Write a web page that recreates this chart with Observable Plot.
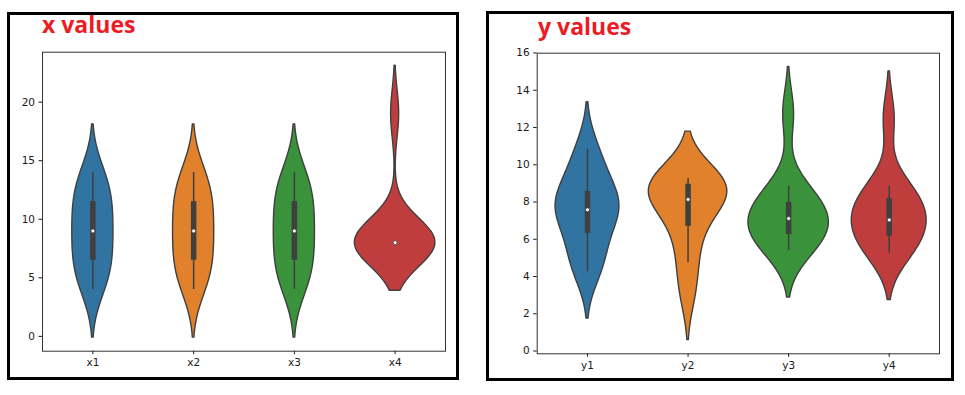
<!DOCTYPE html>
<html>
<head>
<meta charset="utf-8">
<script src="https://cdn.jsdelivr.net/npm/d3@7"></script>
<script src="https://cdn.jsdelivr.net/npm/@observablehq/plot@0.6"></script>
<style>
  html, body { margin: 0; padding: 0; background: #fff; width: 965px; height: 395px; overflow: hidden; }
  .pane { position: absolute; top: 0; }
  .box { position: absolute; border: 3.5px solid #000; box-sizing: border-box; pointer-events: none; }
  .ttl { position: absolute; font-family: "Open Sans", sans-serif; font-weight: 700; font-size: 23px; line-height: 23px; color: #ed1c24; white-space: nowrap; }
</style>
</head>
<body>
<div id="left" class="pane" style="left:0px;width:460px;height:395px"></div>
<div id="right" class="pane" style="left:480px;width:480px;height:395px"></div>
<div class="box" style="left:7px;top:12px;width:452px;height:368px"></div>
<div class="box" style="left:486px;top:11px;width:468px;height:370px"></div>
<div class="ttl" style="left:42px;top:12.5px">x values</div>
<div class="ttl" style="left:538px;top:14.5px">y values</div>
<script>
// Anscombe's quartet
const xCats = ["x1", "x2", "x3", "x4"];
const yCats = ["y1", "y2", "y3", "y4"];
const x1 = [10, 8, 13, 9, 11, 14, 6, 4, 12, 7, 5];
const x2 = [10, 8, 13, 9, 11, 14, 6, 4, 12, 7, 5];
const x3 = [10, 8, 13, 9, 11, 14, 6, 4, 12, 7, 5];
const x4 = [8, 8, 8, 8, 8, 8, 8, 19, 8, 8, 8];
const y1 = [8.04, 6.95, 7.58, 8.81, 8.33, 9.96, 7.24, 4.26, 10.84, 4.82, 5.68];
const y2 = [9.14, 8.14, 8.74, 8.77, 9.26, 8.10, 6.13, 3.10, 9.13, 7.26, 4.74];
const y3 = [7.46, 6.77, 12.74, 7.11, 7.81, 8.84, 6.08, 5.39, 8.15, 6.42, 5.73];
const y4 = [6.58, 5.76, 7.71, 8.84, 8.47, 7.04, 5.25, 12.50, 5.56, 7.91, 6.89];
const xTicks = [0, 5, 10, 15, 20];
const yTicks = [0, 2, 4, 6, 8, 10, 12, 14, 16];
const palette = ["#3274a1", "#e1812c", "#3a923a", "#c03d3e"];

const GRAY = "#3f3f3f";

function kde(values) {
  const n = values.length;
  const sd = d3.deviation(values);
  const bw = sd * Math.pow(n, -1 / 5);
  const lo = d3.min(values) - 2 * bw, hi = d3.max(values) + 2 * bw;
  const k = 100;
  const pts = [];
  for (let j = 0; j < k; j++) {
    const y = lo + (hi - lo) * j / (k - 1);
    let s = 0;
    for (const v of values) { const z = (y - v) / bw; s += Math.exp(-0.5 * z * z); }
    pts.push({ y, d: s / (n * bw * Math.sqrt(2 * Math.PI)) });
  }
  return { pts, lo, hi };
}

function stats(values, i, cat) {
  const s = values.slice().sort(d3.ascending);
  const q1 = d3.quantileSorted(s, 0.25), q2 = d3.quantileSorted(s, 0.5), q3 = d3.quantileSorted(s, 0.75);
  const iqr = q3 - q1;
  const wlo = d3.min(s.filter(v => v >= q1 - 1.5 * iqr));
  const whi = d3.max(s.filter(v => v <= q3 + 1.5 * iqr));
  return { i, cat, q1, q2, q3, wlo, whi };
}

function panel(el, cats, series, ticks, w, h, m) {
  const ks = series.map(kde);
  const dmax = d3.max(ks, k => d3.max(k.pts, p => p.d));
  const area = [];
  ks.forEach((k, i) => k.pts.forEach(p => area.push({ i, cat: cats[i], y: p.y, w: 0.4 * p.d / dmax })));
  const st = series.map((v, i) => stats(v, i, cats[i]));
  const lo = d3.min(ks, k => k.lo), hi = d3.max(ks, k => k.hi);
  const pad = 0.05 * (hi - lo);
  const svg = Plot.plot({
    width: w, height: h,
    marginLeft: m[0], marginRight: m[1], marginTop: m[2], marginBottom: m[3],
    style: { background: "transparent", fontFamily: "DejaVu Sans, sans-serif", fontSize: "10.5px", color: "#1a1a1a" },
    x: { domain: [-0.5, 3.5], ticks: [0, 1, 2, 3], tickFormat: i => cats[i], label: null, tickSize: 3.5, tickPadding: 4 },
    y: { domain: [lo - pad, hi + pad], ticks: ticks, label: null, tickSize: 3.5, tickPadding: 4 },
    color: { domain: cats, range: palette },
    marks: [
      Plot.areaX(area, { x1: d => d.i - d.w, x2: d => d.i + d.w, y: "y", z: "cat", fill: "cat", stroke: GRAY, strokeWidth: 1.4 }),
      Plot.ruleX(st, { x: "i", y1: "wlo", y2: "whi", stroke: GRAY, strokeWidth: 1.5 }),
      Plot.ruleX(st, { x: "i", y1: "q1", y2: "q3", stroke: GRAY, strokeWidth: 5.5 }),
      Plot.dot(st, { x: "i", y: "q2", r: 2, fill: "white", stroke: GRAY, strokeWidth: 0.8 }),
      Plot.frame({ stroke: "#333", strokeWidth: 1 })
    ]
  });
  document.getElementById(el).appendChild(svg);
}

panel("left", xCats, [x1, x2, x3, x4], xTicks, 460, 395, [42, 15, 51.7, 44.3]);
panel("right", yCats, [y1, y2, y3, y4], yTicks, 480, 395, [56.7, 21, 52.7, 41.7]);
</script>
</body>
</html>
